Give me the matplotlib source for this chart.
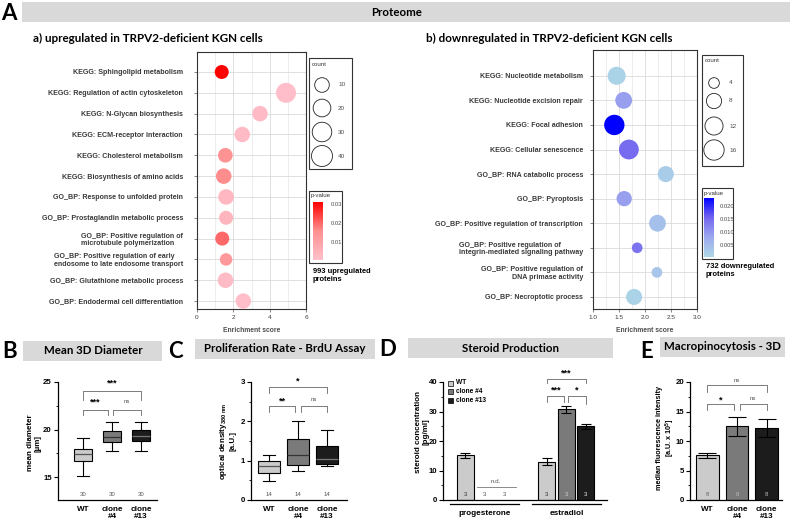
import numpy as np
import matplotlib
matplotlib.use("Agg")
import matplotlib.pyplot as plt
from matplotlib.patches import Rectangle
from matplotlib.colors import LinearSegmentedColormap, Normalize
from matplotlib.cm import ScalarMappable

plt.rcParams['font.family'] = ['Liberation Sans', 'DejaVu Sans']
plt.rcParams['mathtext.default'] = 'regular'

# ---------------- data ----------------
up_terms = ["KEGG: Sphingolipid metabolism", "KEGG: Regulation of actin cytoskeleton",
            "KEGG: N-Glycan biosynthesis", "KEGG: ECM-receptor interaction",
            "KEGG: Cholesterol metabolism", "KEGG: Biosynthesis of amino acids",
            "GO_BP: Response to unfolded protein", "GO_BP: Prostaglandin metabolic process",
            "GO_BP: Positive regulation of\nmicrotubule polymerization",
            "GO_BP: Positive regulation of early\nendosome to late endosome transport",
            "GO_BP: Glutathione metabolic process", "GO_BP: Endodermal cell differentiation"]
up_score = [1.36, 4.90, 3.47, 2.49, 1.56, 1.47, 1.60, 1.60, 1.39, 1.60, 1.57, 2.55]
up_count = [9, 33, 12, 12, 10, 12, 12, 9, 9, 8, 12, 12]
up_pval = [0.031, 0.001, 0.002, 0.002, 0.015, 0.016, 0.003, 0.004, 0.020, 0.013, 0.002, 0.001]
up_count_legend = [10, 20, 30, 40]
up_p_ticks = [0.01, 0.02, 0.03]

down_terms = ["KEGG: Nucleotide metabolism", "KEGG: Nucleotide excision repair",
              "KEGG: Focal adhesion", "KEGG: Cellular senescence",
              "GO_BP: RNA catabolic process", "GO_BP: Pyroptosis",
              "GO_BP: Positive regulation of transcription",
              "GO_BP: Positive regulation of\nintegrin-mediated signaling pathway",
              "GO_BP: Positive regulation of\nDNA primase activity",
              "GO_BP: Necroptotic process"]
down_score = [1.455, 1.59, 1.41, 1.69, 2.40, 1.60, 2.24, 1.85, 2.23, 1.79]
down_count = [12, 10, 16, 15, 9, 8, 10, 4, 4, 9]
down_pval = [0.001, 0.009, 0.0233, 0.015, 0.002, 0.009, 0.004, 0.014, 0.003, 0.001]
down_count_legend = [4, 8, 12, 16]
down_p_ticks = [0.005, 0.010, 0.015, 0.020]

groups = ["WT", "clone\n#4", "clone\n#13"]
legend_groups = ["WT", "clone #4", "clone #13"]

diam_whislo = [15.10, 17.75, 17.71]
diam_q1 = [16.69, 18.70, 18.80]
diam_med = [17.46, 19.23, 19.33]
diam_q3 = [17.99, 19.82, 19.93]
diam_whishi = [19.15, 20.81, 20.81]
diam_n = [30, 30, 30]

brdu_whislo = [0.48, 0.75, 0.86]
brdu_q1 = [0.69, 0.89, 0.92]
brdu_med = [0.87, 1.14, 1.03]
brdu_q3 = [0.99, 1.55, 1.38]
brdu_whishi = [1.14, 2.01, 1.78]
brdu_n = [14, 14, 14]

hormones = ["progesterone", "estradiol"]
prog_mean = [15.2, np.nan, np.nan]
prog_sd = [0.8, np.nan, np.nan]
est_mean = [13.0, 30.7, 25.0]
est_sd = [1.1, 1.2, 0.9]
steroid_n = [3, 3, 3]

macro_mean = [7.55, 12.5, 12.2]
macro_sd = [0.5, 1.65, 1.45]
macro_n = [8, 8, 8]

# ---------------- layout helpers ----------------
W, H = 794, 525
fig = plt.figure(figsize=(W / 100, H / 100), dpi=100)

ov = fig.add_axes([0, 0, 1, 1])
ov.set_xlim(0, W)
ov.set_ylim(H, 0)
ov.axis('off')
ov.patch.set_visible(False)


def axpx(l, t, r, b):
    a = fig.add_axes([l / W, 1 - b / H, (r - l) / W, (b - t) / H])
    a.patch.set_visible(False)
    return a


TITLE_FONT = ['Lato', 'DejaVu Sans']
group_colors = ['#CBCBCB', '#7A7A7A', '#1C1C1C']


def header(l, t, r, b, text, cx, size=8.3):
    ov.add_patch(Rectangle((l, t), r - l, b - t, facecolor='#D9D9D9', edgecolor='none', zorder=0))
    ov.text(cx, (t + b) / 2, text, ha='center', va='center', fontsize=size,
            fontweight='bold', family=TITLE_FONT)


def letter(x, y, s):
    ov.text(x, y, s, ha='center', va='center', fontsize=16, fontweight='bold', family=TITLE_FONT)


# headers and panel letters
header(22, 2, 790, 22, "Proteome", 397)
letter(9, 13.5, "A")
ov.text(33, 38, "a) upregulated in TRPV2-deficient KGN cells", ha='left', va='center',
        fontsize=8.4, fontweight='bold', family=TITLE_FONT)
ov.text(426, 38, "b) downregulated in TRPV2-deficient KGN cells", ha='left', va='center',
        fontsize=8.4, fontweight='bold', family=TITLE_FONT)

header(23, 341, 162, 361, "Mean 3D Diameter", 93)
letter(9.5, 352, "B")
header(195, 339, 375, 359, "Proliferation Rate - BrdU Assay", 285)
letter(175, 352, "C")
header(408, 338, 613, 358, "Steroid Production", 511)
letter(388, 350, "D")
header(660, 337, 785, 357, "Macropinocytosis - 3D", 722)
letter(647, 351, "E")

# ---------------- bubble charts ----------------
cmap_up = LinearSegmentedColormap.from_list('up', ['#FFC0CB', '#FF9090', '#FF0000'])
cmap_dn = LinearSegmentedColormap.from_list('dn', ['#ADD8E6', '#9DA9EE', '#7466F0', '#0000FF'])
norm_up = Normalize(0.0004, 0.031)
norm_dn = Normalize(0.0001, 0.0233)


def d_up(c):
    return 12.5 + 1.5 * np.sqrt(max(c - 8, 0))


def d_dn(c):
    return 7.0 + 3.7 * np.sqrt(max(c - 3, 0))


def bubble(ax, terms, score, count, pval, cmap, norm, dfun, xlim, major, minor, ylim, pad, fmt):
    n = len(terms)
    ys = np.arange(n)
    ax.set_xlim(*xlim)
    ax.set_ylim(*ylim)
    ax.set_xticks(major)
    ax.set_xticklabels([fmt.format(v) for v in major])
    ax.set_xticks(minor, minor=True)
    ax.set_yticks(ys)
    ax.set_yticklabels(terms)
    ax.grid(True, which='major', color='#DADADA', lw=0.6)
    ax.grid(True, which='minor', axis='x', color='#E6E6E6', lw=0.5)
    ax.set_axisbelow(True)
    sizes = [(dfun(c) * 0.72) ** 2 for c in count]
    ax.scatter(score, ys, s=sizes, c=pval, cmap=cmap, norm=norm, edgecolors='none', zorder=3)
    for sp in ax.spines.values():
        sp.set_color('#333333')
        sp.set_linewidth(0.8)
    ax.tick_params(axis='both', which='major', length=2.5, width=0.5, color='#555555',
                   labelsize=5.1, labelcolor='#3A3A3A')
    ax.tick_params(axis='y', pad=pad)
    ax.tick_params(axis='x', pad=2, labelsize=4.6)
    ax.tick_params(axis='x', which='minor', length=0)
    for lbl in ax.get_yticklabels():
        lbl.set_fontweight('bold')
        lbl.set_multialignment('left')
        lbl.set_linespacing(1.1)


ax_up = axpx(197, 52, 306, 309)
bubble(ax_up, up_terms, up_score, up_count, up_pval, cmap_up, norm_up, d_up,
       (0, 6), [0, 2, 4, 6], [1, 3, 5], (11.38, -0.96), 7.5, "{:g}")
ov.text(251.5, 330, "Enrichment score", ha='center', va='center', fontsize=4.9,
        fontweight='bold', color='#4D4D4D')

ax_dn = axpx(593, 50, 697, 309)
bubble(ax_dn, down_terms, down_score, down_count, down_pval, cmap_dn, norm_dn, d_dn,
       (1.0, 3.0), [1.0, 1.5, 2.0, 2.5, 3.0], [1.25, 1.75, 2.25, 2.75], (9.49, -1.05), 4.7, "{:.1f}")
ax_dn.get_yticklabels()[8].set_multialignment('right')
ov.text(645, 330, "Enrichment score", ha='center', va='center', fontsize=4.9,
        fontweight='bold', color='#4D4D4D')


def count_legend(box, cx, lx, ys, vals, dfun):
    l, t, r, b = box
    ov.add_patch(Rectangle((l, t), r - l, b - t, fill=False, edgecolor='#333333', lw=0.8))
    ov.text(l + 3, t + 6, "count", ha='left', va='center', fontsize=4.4, color='#333333')
    ov.scatter([cx] * len(vals), ys, s=[(dfun(v) * 0.72) ** 2 for v in vals],
               facecolors='none', edgecolors='#222222', linewidths=0.6)
    for y, v in zip(ys, vals):
        ov.text(lx, y, str(v), ha='left', va='center', fontsize=4.6, color='#4D4D4D')


def p_legend(box, cbox, cmap, norm, ticks, fmt, pad):
    l, t, r, b = box
    ov.add_patch(Rectangle((l, t), r - l, b - t, fill=False, edgecolor='#333333', lw=0.8))
    ov.text(l + 2, t + 5, "p-value", ha='left', va='center', fontsize=4.4, color='#333333')
    cax = axpx(*cbox)
    cb = fig.colorbar(ScalarMappable(norm=norm, cmap=cmap), cax=cax)
    cb.set_ticks(ticks)
    cb.set_ticklabels([fmt.format(v) for v in ticks])
    cb.outline.set_visible(False)
    cax.tick_params(labelsize=4.2, length=2, width=0.5, color='white', labelcolor='#4D4D4D', pad=pad)


count_legend((309, 58, 352, 169), 322, 338, [85, 108, 132, 156], up_count_legend, d_up)
p_legend((309, 191, 342, 263), (313, 202, 323, 260), cmap_up, norm_up, up_p_ticks, "{:.2f}", 3.5)
ov.text(313, 268, "993 upregulated\nproteins", ha='left', va='top', fontsize=5.4,
        fontweight='bold', linespacing=1.2)

count_legend((702, 55, 743, 166), 714, 729, [83, 101, 126, 150], down_count_legend, d_dn)
p_legend((702, 188, 733, 259), (704, 198, 714, 257), cmap_dn, norm_dn, down_p_ticks, "{:.3f}", 2)
ov.text(706, 263, "732 downregulated\nproteins", ha='left', va='top', fontsize=5.4,
        fontweight='bold', linespacing=1.2)

# ---------------- bottom panels ----------------


def style_ax(ax):
    for s in ['top', 'right']:
        ax.spines[s].set_visible(False)
    for s in ['left', 'bottom']:
        ax.spines[s].set_linewidth(0.9)
    ax.tick_params(axis='y', which='major', length=3, width=0.8, labelsize=5.6, pad=1.5)
    ax.tick_params(axis='y', which='minor', length=1.8, width=0.6)
    ax.tick_params(axis='x', length=0, labelsize=5.9, pad=4)
    for lab in ax.get_yticklabels() + ax.get_xticklabels():
        lab.set_fontweight('bold')
        lab.set_linespacing(1.1)


def bracket(ax, x1, x2, y, l1, l2, label, ty):
    ax.plot([x1, x1, x2, x2], [l1, y, y, l2], color='#666666', lw=0.6, clip_on=False)
    if label == 'ns':
        ax.text((x1 + x2) / 2, ty, label, ha='center', va='center', fontsize=4.3,
                color='#555555', clip_on=False)
    else:
        ax.text((x1 + x2) / 2, ty, label, ha='center', va='center', fontsize=6.5,
                fontweight='bold', clip_on=False)


def boxes(ax, lo, q1, med, q3, hi, width, capw, med_colors):
    stats = [dict(whislo=a, q1=b, med=c, q3=d, whishi=e) for a, b, c, d, e in zip(lo, q1, med, q3, hi)]
    bp = ax.bxp(stats, positions=[0, 1, 2], widths=width, patch_artist=True, showfliers=False,
                capwidths=capw,
                boxprops=dict(edgecolor='black', linewidth=0.8),
                whiskerprops=dict(color='black', linewidth=0.8),
                capprops=dict(color='black', linewidth=0.8),
                medianprops=dict(linewidth=0.9))
    for patch, col in zip(bp['boxes'], group_colors):
        patch.set_facecolor(col)
    for m, col in zip(bp['medians'], med_colors):
        m.set_color(col)


# B
axB = axpx(58, 382, 157, 500)
boxes(axB, diam_whislo, diam_q1, diam_med, diam_q3, diam_whishi, 0.62, 0.42,
      ['#555555', '#333333', '#777777'])
axB.set_xlim(-0.86, 2.55)
axB.set_ylim(12.58, 25)
axB.set_yticks([15, 20, 25])
axB.set_yticks([17.5, 22.5], minor=True)
axB.set_xticks([0, 1, 2])
axB.set_xticklabels(groups)
style_ax(axB)
for i, n in enumerate(diam_n):
    axB.text(i, 13.2, str(n), ha='center', va='center', fontsize=4.3, color='#555555')
bracket(axB, 0, 2, 24.05, 23.1, 23.1, '***', 24.9)
bracket(axB, 0, 0.85, 22.1, 21.5, 21.5, '***', 22.85)
bracket(axB, 1.05, 2, 22.1, 21.5, 21.5, 'ns', 22.95)
ov.text(34, 443, "mean diameter\n[µm]", rotation=90, ha='center', va='center', fontsize=5.8,
        fontweight='bold', linespacing=1.15)

# C
axC = axpx(251, 382, 347, 500)
boxes(axC, brdu_whislo, brdu_q1, brdu_med, brdu_q3, brdu_whishi, 0.76, 0.42,
      ['#555555', '#333333', '#777777'])
axC.set_xlim(-0.62, 2.69)
axC.set_ylim(0, 3)
axC.set_yticks([0, 1, 2, 3])
axC.set_yticks([0.5, 1.5, 2.5], minor=True)
axC.set_xticks([0, 1, 2])
axC.set_xticklabels(groups)
style_ax(axC)
for i, n in enumerate(brdu_n):
    axC.text(i, 0.14, str(n), ha='center', va='center', fontsize=4.3, color='#555555')
bracket(axC, 0, 2, 2.88, 2.71, 2.71, '*', 3.02)
bracket(axC, 0, 0.9, 2.39, 2.25, 2.25, '**', 2.52)
bracket(axC, 1.1, 2, 2.39, 2.25, 2.25, 'ns', 2.55)
ov.text(227, 441, "optical density$_{380\\ nm}$\n[a.U.]", rotation=90, ha='center', va='center',
        fontsize=5.8, fontweight='bold', linespacing=1.15)

# D
axD = axpx(443, 382, 607, 500)
pos_prog = np.array([0, 1, 2])
pos_est = pos_prog + 4.2
axD.bar(pos_prog, prog_mean, width=0.87, color=group_colors, edgecolor='black', linewidth=0.8, zorder=2)
axD.bar(pos_est, est_mean, width=0.87, color=group_colors, edgecolor='black', linewidth=0.8, zorder=2)
axD.errorbar(pos_prog, prog_mean, yerr=prog_sd, fmt='none', ecolor='black', elinewidth=0.8,
             capsize=3.6, capthick=0.8, zorder=3)
axD.errorbar(pos_est, est_mean, yerr=est_sd, fmt='none', ecolor='black', elinewidth=0.8,
             capsize=3.6, capthick=0.8, zorder=3)
axD.set_xlim(-1.13, 7.28)
axD.set_ylim(0, 40)
axD.set_yticks([0, 10, 20, 30, 40])
axD.set_yticks([5, 15, 25, 35], minor=True)
axD.set_xticks([pos_prog.mean(), pos_est.mean()])
axD.set_xticklabels(hormones)
style_ax(axD)
axD.tick_params(axis='x', pad=7)
axD.tick_params(axis='y', pad=1.0)
n_cols = ['#333333', '#CCCCCC', '#EEEEEE']
for i in range(3):
    axD.text(pos_prog[i], 2.0, str(steroid_n[i]), ha='center', va='center', fontsize=4.3,
             color=n_cols[i] if i == 0 else '#555555', zorder=4)
    axD.text(pos_est[i], 2.0, str(steroid_n[i]), ha='center', va='center', fontsize=4.3,
             color=n_cols[i], zorder=4)
axD.plot([0.6, 2.6], [4.5, 4.5], color='#777777', lw=0.6)
axD.text(1.6, 6.3, "n.d.", ha='center', va='center', fontsize=4.5, color='#555555')
trD = axD.get_xaxis_transform()
for grp in (pos_prog, pos_est):
    axD.plot([grp[0] - 0.75, grp[-1] + 0.75], [-0.03, -0.03], color='black', lw=0.9,
             transform=trD, clip_on=False)
bracket(axD, pos_est[0], pos_est[2], 41.1, 39.5, 39.5, '***', 43.2)
bracket(axD, pos_est[0], pos_est[1] - 0.1, 35.3, 33.3, 33.3, '***', 37.3)
bracket(axD, pos_est[1] + 0.1, pos_est[2], 35.3, 33.3, 32.7, '*', 37.3)
for i, (lab, col) in enumerate(zip(legend_groups, group_colors)):
    ov.add_patch(Rectangle((448, 380.5 + i * 8.5), 5, 5, facecolor=col, edgecolor='black', lw=0.5))
    ov.text(456, 383 + i * 8.5, lab, ha='left', va='center', fontsize=4.8, fontweight='bold')
ov.text(422, 432, "steroid concentration\n[pg/ml]", rotation=90, ha='center', va='center',
        fontsize=5.8, fontweight='bold', linespacing=1.1)

# E
axE = axpx(690, 382, 782, 500)
posE = np.array([0, 1, 2])
axE.bar(posE, macro_mean, width=0.76, color=group_colors, edgecolor='black', linewidth=0.8, zorder=2)
axE.errorbar(posE, macro_mean, yerr=macro_sd, fmt='none', ecolor='black', elinewidth=0.8,
             capsize=6.5, capthick=0.8, zorder=3)
axE.set_xlim(-0.59, 2.52)
axE.set_ylim(0, 20)
axE.set_yticks([0, 5, 10, 15, 20])
axE.set_yticks([2.5, 7.5, 12.5, 17.5], minor=True)
axE.set_xticks(posE)
axE.set_xticklabels(groups)
style_ax(axE)
axE.tick_params(axis='y', pad=1.0)
for i, n in enumerate(macro_n):
    axE.text(posE[i], 1.0, str(n), ha='center', va='center', fontsize=4.3,
             color='#666666' if i == 0 else '#BBBBBB', zorder=4)
bracket(axE, 0, 2, 19.44, 18.3, 18.3, 'ns', 20.2)
bracket(axE, 0, 0.9, 16.3, 15.2, 15.2, '*', 17.0)
bracket(axE, 1.1, 2, 16.3, 15.2, 15.2, 'ns', 17.2)
ov.text(666.5, 438, "median fluorescence intensity\n[a.U. x 10$^5$]", rotation=90, ha='center',
        va='center', fontsize=5.2, fontweight='bold', linespacing=1.05)

fig.savefig("out.png", dpi=100)
